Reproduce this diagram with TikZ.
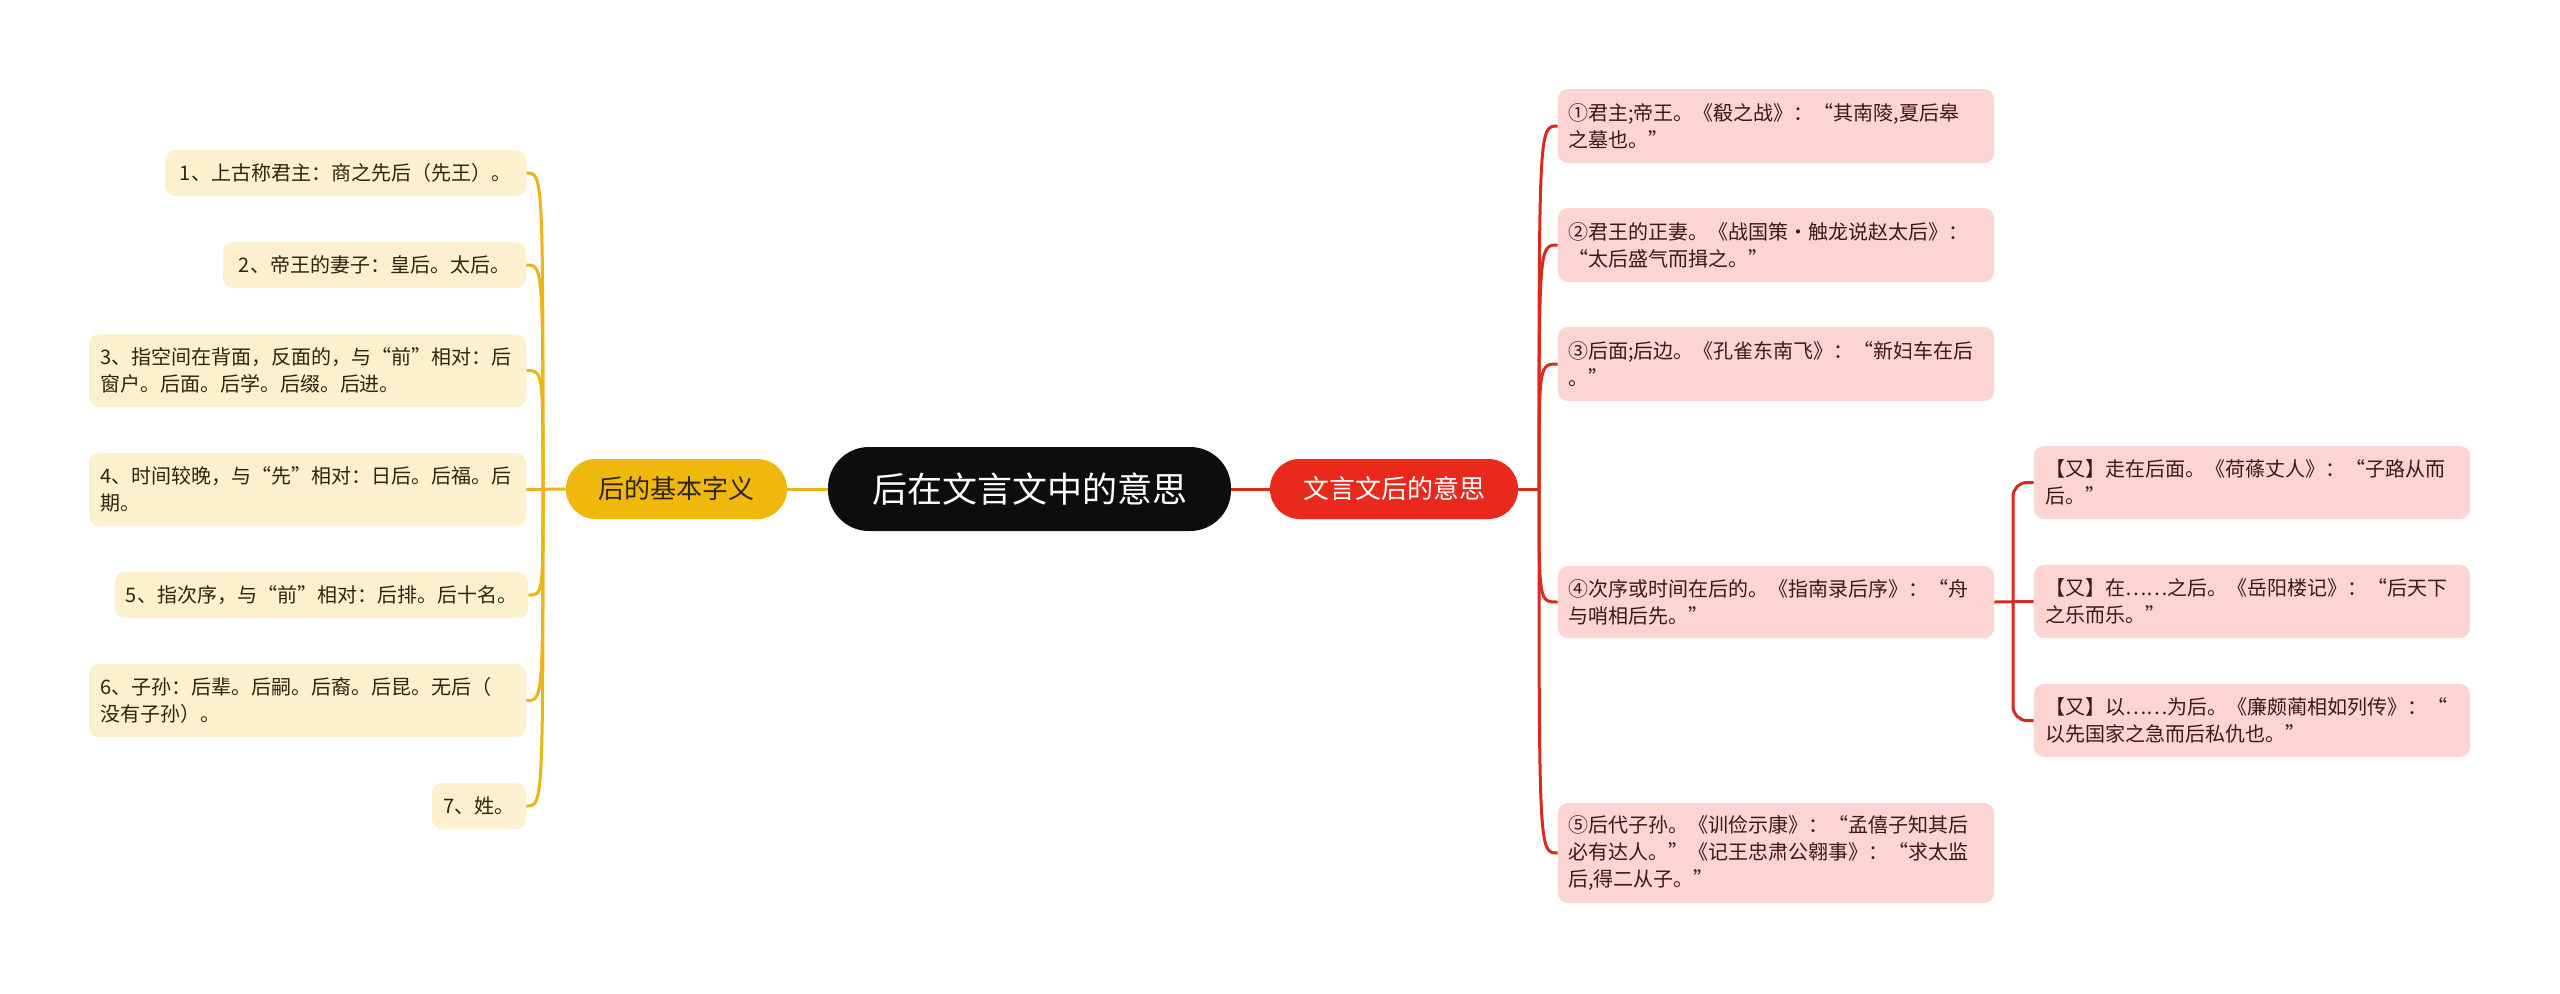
\documentclass[tikz,border=0pt]{standalone}
\usepackage{fontspec}
\setmainfont{Noto Sans CJK SC}
\definecolor{leafyellow}{HTML}{FDF0CF}
\definecolor{leafpink}{HTML}{FCD4D2}
\definecolor{branchyellow}{HTML}{F0B70D}
\definecolor{branchred}{HTML}{E8291B}
\definecolor{lineyellow}{HTML}{EBB513}
\definecolor{linered}{HTML}{DB2A1C}
\definecolor{textY}{HTML}{2E2510}
\definecolor{textP}{HTML}{3A1A14}
\definecolor{rootfill}{HTML}{0D0D0D}
\tikzset{
  leafbase/.style={rectangle, rounded corners=5pt, inner ysep=2pt, font=\fontsize{10}{13.5}\selectfont},
  leafY/.style={leafbase, fill=leafyellow, text=textY, inner xsep=5.5pt},
  leafP/.style={leafbase, fill=leafpink, text=textP, inner xsep=5pt},
  multi/.style={align=left, text width=#1},
  single/.style={align=center, minimum width=#1},
  rootnode/.style={rectangle, rounded corners=20.5pt, fill=rootfill, text=white, minimum width=201.5pt, minimum height=42pt, font=\fontsize{17.5}{20}\selectfont},
  branchY/.style={rectangle, rounded corners=14.8pt, fill=branchyellow, text=textY, minimum width=110.5pt, minimum height=30pt, font=\fontsize{13}{15}\selectfont},
  branchR/.style={rectangle, rounded corners=14.8pt, fill=branchred, text=white, minimum width=124pt, minimum height=30pt, font=\fontsize{13}{15}\selectfont},
  linkY/.style={draw=lineyellow, line width=1.5pt},
  linkR/.style={draw=linered, line width=1.5pt},
}
\begin{document}
\begin{tikzpicture}[x=0.5pt,y=-0.5pt]
\path[use as bounding box, fill=white] (0,0) rectangle (2560,993);

% central and branches
\node[rootnode] (root) at (1029.5,489) {后在文言文中的意思};
\node[branchY] (bY) at (676.5,489) {后的基本字义};
\node[branchR] (bR) at (1394,489) {文言文后的意思};

% left leaves
\node[leafY, single=180.5pt, minimum height=23pt] (L1) at (345.5,173) {1、上古称君主：商之先后（先王）。};
\node[leafY, single=151.5pt, minimum height=23pt] (L2) at (374.5,265) {2、帝王的妻子：皇后。太后。};
\node[leafY, multi=207.5pt, minimum height=36.5pt] (L3) at (307.5,370.5) {3、指空间在背面，反面的，与“前”相对：后\\窗户。后面。后学。后缀。后进。};
\node[leafY, multi=207.5pt, minimum height=36.5pt] (L4) at (307.5,489.5) {4、时间较晚，与“先”相对：日后。后福。后\\期。};
\node[leafY, single=204.5pt, minimum height=23pt] (L5) at (321.5,595) {5、指次序，与“前”相对：后排。后十名。};
\node[leafY, multi=207.5pt, minimum height=36.5pt] (L6) at (307.5,700.5) {6、子孙：后辈。后嗣。后裔。后昆。无后（\\没有子孙）。};
\node[leafY, single=47pt, minimum height=23pt] (L7) at (479,806) {7、姓。};

% right leaves
\node[leafP, multi=208pt, minimum height=37pt] (R1) at (1776,126) {①君主;帝王。《殽之战》：“其南陵,夏后皋\\之墓也。”};
\node[leafP, multi=208pt, minimum height=37pt] (R2) at (1776,245) {②君王的正妻。《战国策·触龙说赵太后》：\\“太后盛气而揖之。”};
\node[leafP, multi=208pt, minimum height=37pt] (R3) at (1776,364) {③后面;后边。《孔雀东南飞》：“新妇车在后\\。”};
\node[leafP, multi=208pt, minimum height=36pt] (R4) at (1776,602) {④次序或时间在后的。《指南录后序》：“舟\\与哨相后先。”};
\node[leafP, multi=208pt, minimum height=50pt] (R5) at (1776,853) {⑤后代子孙。《训俭示康》：“孟僖子知其后\\必有达人。”《记王忠肃公翱事》：“求太监\\后,得二从子。”};

% sub leaves
\node[leafP, multi=207pt, inner xsep=5.5pt, minimum height=36.5pt] (S1) at (2252,482.5) {【又】走在后面。《荷蓧丈人》：“子路从而\\后。”};
\node[leafP, multi=207pt, inner xsep=5.5pt, minimum height=36.5pt] (S2) at (2252,601.5) {【又】在……之后。《岳阳楼记》：“后天下\\之乐而乐。”};
\node[leafP, multi=207pt, inner xsep=5.5pt, minimum height=36.5pt] (S3) at (2252,720.5) {【又】以……为后。《廉颇蔺相如列传》：“\\以先国家之急而后私仇也。”};

% junctions
\coordinate (jL) at (543,489);
\coordinate (jR) at (1539,489);
\coordinate (jS) at (2013,602);

% root to branches
\draw[linkY] (root.west) -- (bY.east);
\draw[linkR] (root.east) -- (bR.west);

% left connectors
\draw[linkY] (bY.west) -- (L4.east);
\foreach \n in {L1,L2,L3,L5,L6,L7}{
  \draw[linkY] (jL) .. controls (jL |- \n.east) and (jL |- \n.east) .. (\n.east);
}

% right connectors
\draw[linkR] (bR.east) -- (jR);
\foreach \n in {R1,R2,R3,R4,R5}{
  \draw[linkR] (jR) .. controls (jR |- \n.west) and (jR |- \n.west) .. (\n.west);
}

% sub connectors
\draw[linkR] (R4.east) -- (S2.west);
\draw[linkR, rounded corners=7pt] (S1.west) -- (jS |- S1.west) -- (jS |- S3.west) -- (S3.west);
\end{tikzpicture}
\end{document}
